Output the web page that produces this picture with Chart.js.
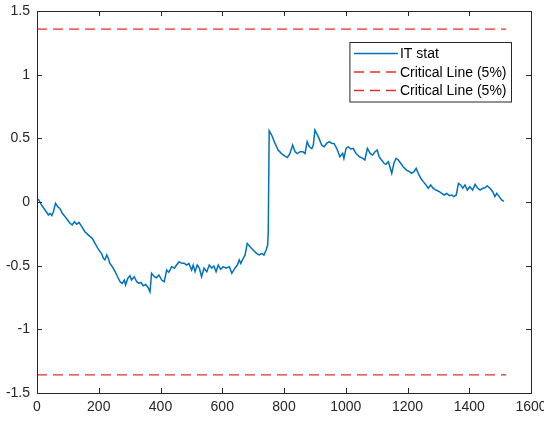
<!DOCTYPE html>
<html>
<head>
<meta charset="utf-8">
<script src="https://cdn.jsdelivr.net/npm/chart.js@4.4.0/dist/chart.umd.min.js"></script>
<style>
  html, body { margin: 0; padding: 0; background: #fff; }
  #wrap { width: 544px; height: 421px; }
</style>
</head>
<body>
<div id="wrap"><canvas id="plot" width="544" height="421"></canvas></div>
<script>
// IT statistic path (sample index vs statistic)
const statX = [
  0, 6, 15, 26, 37, 42, 48, 53, 60, 67,
  74, 82, 91, 99, 107, 114, 121, 128, 136, 145,
  155, 164, 172, 179, 188, 197, 204, 209, 215, 220,
  226, 231, 236, 244, 253, 261, 269, 276, 283, 287,
  294, 301, 306, 315, 323, 330, 337, 344, 352, 360,
  366, 371, 380, 387, 395, 404, 412, 420, 427, 436,
  445, 452, 460, 469, 477, 485, 492, 501, 506, 512,
  519, 526, 533, 541, 550, 558, 566, 573, 580, 587,
  595, 603, 612, 623, 631, 641, 649, 655, 660, 668,
  674, 681, 690, 700, 711, 720, 728, 735, 742, 747,
  749, 752, 760, 771, 781, 792, 803, 811, 819, 828,
  836, 843, 852, 861, 868, 875, 882, 890, 895, 900,
  911, 922, 930, 938, 947, 955, 962, 971, 981, 990,
  994, 1001, 1008, 1016, 1024, 1033, 1044, 1055, 1062, 1070,
  1079, 1087, 1095, 1102, 1108, 1116, 1124, 1130, 1138, 1143,
  1149, 1156, 1163, 1170, 1178, 1186, 1197, 1206, 1213, 1221,
  1228, 1235, 1243, 1251, 1260, 1267, 1275, 1283, 1292, 1303,
  1311, 1319, 1327, 1336, 1343, 1350, 1358, 1365, 1372, 1379,
  1386, 1394, 1402, 1411, 1419, 1426, 1435, 1444, 1451, 1458,
  1467, 1476, 1483, 1489, 1497, 1505, 1512
];
const statY = [
  0.024, 0.016, -0.024, -0.063, -0.102, -0.089, -0.107, -0.076, -0.010, -0.037,
  -0.050, -0.089, -0.115, -0.141, -0.167, -0.180, -0.155, -0.175, -0.160, -0.194,
  -0.233, -0.254, -0.272, -0.285, -0.325, -0.364, -0.390, -0.403, -0.442, -0.455,
  -0.416, -0.442, -0.482, -0.508, -0.547, -0.587, -0.626, -0.639, -0.613, -0.652,
  -0.600, -0.579, -0.613, -0.587, -0.626, -0.639, -0.631, -0.657, -0.647, -0.673,
  -0.705, -0.560, -0.587, -0.595, -0.573, -0.613, -0.626, -0.534, -0.552, -0.508,
  -0.520, -0.495, -0.469, -0.482, -0.482, -0.495, -0.482, -0.534, -0.495, -0.547,
  -0.495, -0.520, -0.587, -0.520, -0.547, -0.495, -0.520, -0.503, -0.547, -0.495,
  -0.529, -0.508, -0.520, -0.508, -0.560, -0.520, -0.495, -0.455, -0.482, -0.442,
  -0.416, -0.325, -0.351, -0.377, -0.403, -0.416, -0.403, -0.416, -0.377, -0.338,
  -0.240, 0.560, 0.526, 0.460, 0.408, 0.380, 0.360, 0.350, 0.380, 0.448,
  0.395, 0.380, 0.395, 0.395, 0.380, 0.474, 0.434, 0.420, 0.448, 0.565,
  0.513, 0.448, 0.434, 0.460, 0.474, 0.460, 0.460, 0.420, 0.356, 0.382,
  0.343, 0.421, 0.434, 0.416, 0.421, 0.382, 0.356, 0.343, 0.330, 0.421,
  0.382, 0.369, 0.395, 0.408, 0.356, 0.330, 0.304, 0.296, 0.317, 0.277,
  0.225, 0.304, 0.343, 0.330, 0.304, 0.277, 0.251, 0.238, 0.225, 0.238,
  0.264, 0.225, 0.186, 0.160, 0.134, 0.108, 0.134, 0.108, 0.094, 0.081,
  0.068, 0.055, 0.068, 0.050, 0.055, 0.042, 0.055, 0.147, 0.134, 0.108,
  0.134, 0.094, 0.120, 0.094, 0.139, 0.112, 0.094, 0.108, 0.112, 0.128,
  0.108, 0.081, 0.042, 0.068, 0.042, 0.016, 0.005
];

// 5% critical bounds
const critX = [0, 1520];
const critUpper = [1.358, 1.358];
const critLower = [-1.358, -1.358];

const xMin = 0, xMax = 1600, xStep = 200;
const yMin = -1.5, yMax = 1.5, yStep = 0.5;

const seriesLabels = ['IT stat', 'Critical Line (5%)', 'Critical Line (5%)'];

const FONT = "'Liberation Sans', Arial, sans-serif";
const INK = '#262626';
const BLUE = '#0072bd';
const RED = '#e0302c';

const toPoints = (xs, ys) => xs.map((x, i) => ({ x, y: ys[i] }));

// MATLAB-like box with inward tick marks on all four sides
const axesBox = {
  id: 'axesBox',
  afterDatasetsDraw(chart) {
    const { ctx, chartArea: a, scales: { x, y } } = chart;
    const len = 5;
    ctx.save();
    ctx.strokeStyle = INK;
    ctx.lineWidth = 1;
    ctx.beginPath();
    x.ticks.forEach(t => {
      const px = Math.round(x.getPixelForValue(t.value)) + 0.5;
      ctx.moveTo(px, a.bottom); ctx.lineTo(px, a.bottom - len);
      ctx.moveTo(px, a.top); ctx.lineTo(px, a.top + len);
    });
    y.ticks.forEach(t => {
      const py = Math.round(y.getPixelForValue(t.value)) + 0.5;
      ctx.moveTo(a.left, py); ctx.lineTo(a.left + len, py);
      ctx.moveTo(a.right, py); ctx.lineTo(a.right - len, py);
    });
    ctx.stroke();
    ctx.strokeRect(Math.round(a.left) + 0.5, Math.round(a.top) + 0.5,
      Math.round(a.right - a.left), Math.round(a.bottom - a.top));
    ctx.restore();
  }
};

// legend box in the upper right of the axes
const boxLegend = {
  id: 'boxLegend',
  afterDraw(chart) {
    const { ctx, chartArea: a } = chart;
    const sets = chart.data.datasets;
    const rowH = 18.5, sample = 44, pad = 4;
    ctx.save();
    ctx.font = '14px ' + FONT;
    const textW = Math.max(...sets.map(d => ctx.measureText(d.label).width));
    const w = pad + sample + 2 + textW + 5;
    const h = sets.length * rowH + 4;
    const right = Math.round(a.right) - 19.5;
    const left = right - w;
    const top = Math.round(a.top) + 31.5;
    ctx.fillStyle = '#fff';
    ctx.fillRect(left, top, w, h);
    ctx.strokeStyle = INK;
    ctx.lineWidth = 1;
    ctx.strokeRect(left, top, w, h);
    sets.forEach((d, i) => {
      const cy = top + 11 + i * rowH;
      ctx.beginPath();
      ctx.setLineDash(d.borderDash || []);
      ctx.strokeStyle = d.borderColor;
      ctx.lineWidth = d.borderWidth;
      ctx.moveTo(left + pad, cy);
      ctx.lineTo(left + pad + sample, cy);
      ctx.stroke();
      ctx.setLineDash([]);
      ctx.fillStyle = '#000';
      ctx.textBaseline = 'middle';
      ctx.fillText(d.label, left + pad + sample + 2, cy + 1);
    });
    ctx.restore();
  }
};

new Chart(document.getElementById('plot'), {
  type: 'line',
  data: {
    datasets: [
      { label: seriesLabels[0], data: toPoints(statX, statY), borderColor: BLUE, borderWidth: 1.5, pointRadius: 0, tension: 0 },
      { label: seriesLabels[1], data: toPoints(critX, critUpper), borderColor: RED, borderWidth: 1.3, borderDash: [10, 6], pointRadius: 0 },
      { label: seriesLabels[2], data: toPoints(critX, critLower), borderColor: RED, borderWidth: 1.3, borderDash: [10, 6], pointRadius: 0 },
    ],
  },
  options: {
    responsive: false,
    animation: false,
    layout: { padding: { top: 11, right: 13, left: 0, bottom: 0 } },
    plugins: { legend: { display: false }, tooltip: { enabled: false } },
    scales: {
      x: {
        type: 'linear',
        min: xMin, max: xMax,
        grid: { display: false, drawTicks: false },
        border: { display: false },
        ticks: {
          stepSize: xStep, padding: 6, color: INK, maxRotation: 0,
          font: { family: FONT, size: 14 },
          callback: v => String(v),
        },
        afterFit(s) { s.height = 28; s.paddingLeft = 0; s.paddingRight = 0; },
      },
      y: {
        type: 'linear',
        min: yMin, max: yMax,
        grid: { display: false, drawTicks: false },
        border: { display: false },
        ticks: {
          stepSize: yStep, padding: 7, color: INK,
          font: { family: FONT, size: 14 },
          callback: v => String(v),
        },
        afterFit(s) { s.width = 37; s.paddingTop = 0; s.paddingBottom = 0; },
      },
    },
  },
  plugins: [axesBox, boxLegend],
});
</script>
</body>
</html>
